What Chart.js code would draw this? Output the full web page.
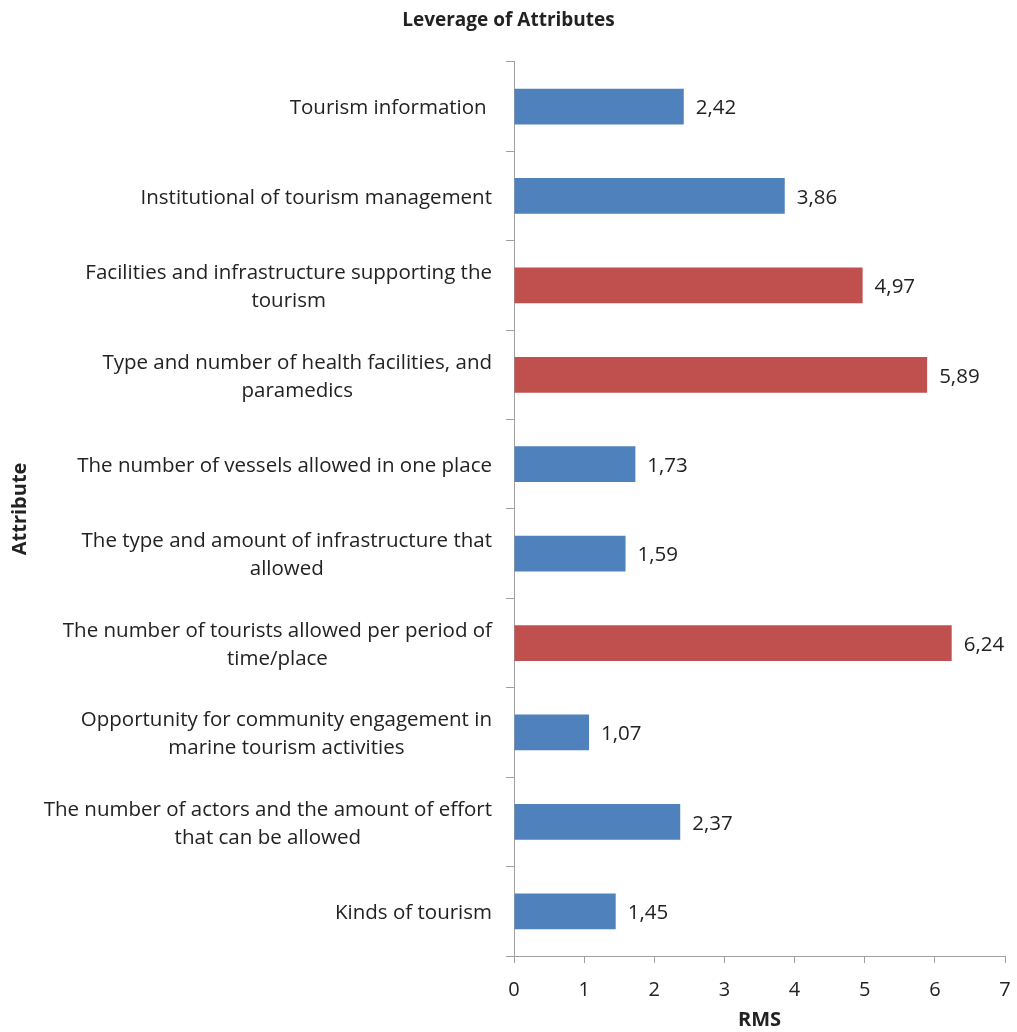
<!DOCTYPE html>
<html>
<head>
<meta charset="utf-8">
<script src="https://cdn.jsdelivr.net/npm/chart.js@4.4.0/dist/chart.umd.min.js"></script>
<style>
  html, body { margin: 0; padding: 0; background: #fff; }
  #wrap { width: 1017px; height: 1032px; }
</style>
</head>
<body>
<div id="wrap"><canvas id="myChart"></canvas></div>
<script>
// attributes, top to bottom
const attributes = [
  ['Tourism information '],
  ['Institutional of tourism management'],
  ['Facilities and infrastructure supporting the', 'tourism'],
  ['Type and number of health facilities, and', 'paramedics'],
  ['The number of vessels allowed in one place'],
  ['The type and amount of infrastructure that', 'allowed'],
  ['The number of tourists allowed per period of', 'time/place'],
  ['Opportunity for community engagement in', 'marine tourism activities'],
  ['The number of actors and the amount of effort', 'that can be allowed'],
  ['Kinds of tourism']
];
const rms = [2.42, 3.86, 4.97, 5.89, 1.73, 1.59, 6.24, 1.07, 2.37, 1.45];
const xTicks = [0, 1, 2, 3, 4, 5, 6, 7];

const blue = '#4f81bd';
const red = '#c0504d';
const barColors = [blue, blue, red, red, blue, blue, red, blue, blue, blue];

const font = "'Open Sans', 'Noto Sans', sans-serif";
const axisGrey = '#a0a0a0';
const textColor = '#222';

// draws the category labels (right aligned block, lines centred) and value labels
const labelPlugin = {
  id: 'labels',
  afterDraw(chart) {
    const ctx = chart.ctx;
    const yScale = chart.scales.y;
    const meta = chart.getDatasetMeta(0);
    ctx.save();
    ctx.fillStyle = textColor;
    ctx.font = '20.5px ' + font;
    ctx.textBaseline = 'middle';
    ctx.textAlign = 'center';
    const right = 492;
    const lineH = 28;
    const dy = 2; // optical nudge, 'middle' sits a bit high
    attributes.forEach((lines, i) => {
      const yc = yScale.getPixelForValue(i) + dy;
      let w = 0;
      lines.forEach(l => { w = Math.max(w, ctx.measureText(l).width); });
      const cx = right - w / 2;
      lines.forEach((l, j) => {
        const y = yc + (j - (lines.length - 1) / 2) * lineH;
        ctx.fillText(l, cx, y);
      });
    });
    ctx.textAlign = 'left';
    meta.data.forEach((bar, i) => {
      ctx.fillText(rms[i].toFixed(2).replace('.', ','), bar.x + 12, bar.y + dy);
    });
    ctx.restore();
  }
};

new Chart(document.getElementById('myChart'), {
  type: 'bar',
  data: {
    labels: attributes,
    datasets: [{
      data: rms,
      backgroundColor: barColors,
      borderWidth: 0,
      barPercentage: 0.4,
      categoryPercentage: 1.0
    }]
  },
  options: {
    indexAxis: 'y',
    responsive: true,
    maintainAspectRatio: false,
    animation: false,
    layout: { padding: 0 },
    plugins: {
      legend: { display: false },
      tooltip: { enabled: false },
      title: {
        display: true,
        text: 'Leverage of Attributes',
        color: textColor,
        font: { family: font, size: 19, weight: 'bold' },
        padding: { top: 9, bottom: 30 }
      }
    },
    scales: {
      x: {
        type: 'linear',
        min: 0,
        max: 7,
        afterBuildTicks(scale) {
          scale.ticks = xTicks.map(v => ({ value: v }));
        },
        afterFit(scale) {
          scale.height = 76;
          scale.paddingRight = 12;
        },
        border: { display: true, color: axisGrey, width: 1 },
        grid: {
          drawOnChartArea: false,
          drawTicks: true,
          tickLength: 7,
          color: axisGrey
        },
        ticks: {
          color: textColor,
          font: { family: font, size: 20 },
          padding: 15
        },
        title: {
          display: true,
          text: 'RMS',
          color: textColor,
          font: { family: font, size: 20, weight: 'bold' },
          padding: { top: 0, bottom: 0 }
        }
      },
      y: {
        type: 'category',
        afterFit(scale) { scale.width = 514; },
        border: { display: true, color: axisGrey, width: 1 },
        grid: {
          offset: true,
          drawOnChartArea: false,
          drawTicks: true,
          tickLength: 8,
          color: axisGrey
        },
        ticks: { display: false },
        title: {
          display: true,
          text: 'Attribute',
          color: textColor,
          font: { family: font, size: 20, weight: 'bold' },
          padding: { top: 8, bottom: 0 }
        }
      }
    }
  },
  plugins: [labelPlugin]
});
</script>
</body>
</html>
